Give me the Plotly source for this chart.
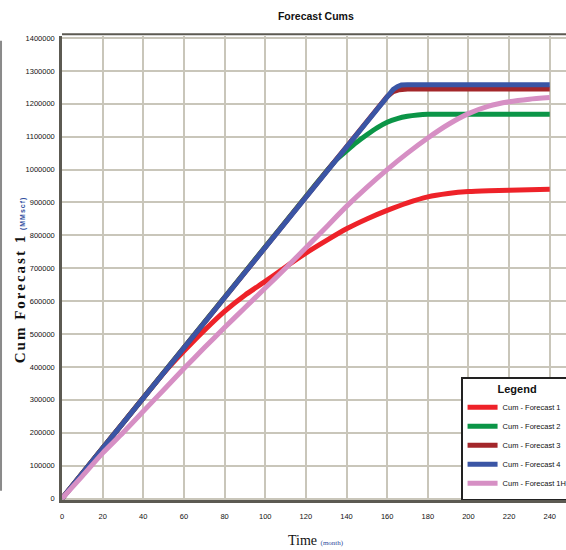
'''
Forecast Cums : cumulative gas forecasts (MMscf) over 240 months
'''

import plotly.graph_objects as go

#  --------------------------------------------------------------------------------------
# DATA
#  --------------------------------------------------------------------------------------

x_ticks = [0, 20, 40, 60, 80, 100, 120, 140, 160, 180, 200, 220, 240]
y_ticks = [0, 100000, 200000, 300000, 400000, 500000, 600000, 700000,
           800000, 900000, 1000000, 1100000, 1200000, 1300000, 1400000]

# Cum - Forecast 1
months_f1 = [0, 20, 40, 50, 60, 70, 80, 90, 100, 110, 120, 130, 140, 150, 160,
             170, 180, 190, 200, 210, 220, 230, 240]
cum_f1 = [0, 153000, 306000, 381000, 448000, 511000, 569000, 618000, 660000,
          704000, 746000, 784000, 820000, 850000, 876000, 899000, 917000,
          927000, 933000, 935500, 937000, 939000, 940000]

# Cum - Forecast 2
months_f2 = [0, 20, 40, 60, 80, 100, 120, 130, 135, 140, 145, 150, 155, 160,
             165, 170, 175, 180, 200, 220, 240]
cum_f2 = [0, 153000, 306000, 459000, 612000, 765000, 918000, 994000, 1030000,
          1057000, 1083000, 1106000, 1127000, 1144000, 1155000, 1162000,
          1166000, 1168000, 1168000, 1168000, 1168000]

# Cum - Forecast 3
months_f3 = [0, 20, 40, 60, 80, 100, 120, 140, 155, 160, 163, 166, 170, 200, 240]
cum_f3 = [0, 153000, 306000, 459000, 612000, 765000, 918000, 1071000, 1186000,
          1222000, 1237000, 1243000, 1245000, 1245000, 1245000]

# Cum - Forecast 4
months_f4 = [0, 20, 40, 60, 80, 100, 120, 140, 160, 163, 165, 167, 170, 200, 240]
cum_f4 = [0, 153000, 306000, 459000, 612000, 765000, 918000, 1071000, 1224000,
          1244000, 1252000, 1257000, 1258000, 1258000, 1258000]

# Cum - Forecast 1H
months_f1h = [0, 10, 20, 30, 40, 50, 60, 70, 80, 90, 100, 110, 120, 130, 140,
              150, 160, 170, 180, 190, 200, 210, 220, 230, 240]
cum_f1h = [0, 68000, 138000, 200000, 265000, 330000, 395000, 458000, 520000,
           580000, 640000, 700000, 762000, 825000, 888000, 946000, 1000000,
           1050000, 1096000, 1137000, 1170000, 1193000, 1206000, 1214000,
           1219000]

series_names = ["Cum - Forecast 1", "Cum - Forecast 2", "Cum - Forecast 3",
                "Cum - Forecast 4", "Cum - Forecast 1H"]
series_months = [months_f1, months_f2, months_f3, months_f4, months_f1h]
series_values = [cum_f1, cum_f2, cum_f3, cum_f4, cum_f1h]
series_colors = ["#EE2229", "#0B9547", "#A3272B", "#3A55A5", "#D68FC4"]
series_shape = ["spline", "spline", "linear", "linear", "spline"]

#  --------------------------------------------------------------------------------------
# FIGURE
#  --------------------------------------------------------------------------------------

sans = "Liberation Sans, Arial, sans-serif"
serif = "Liberation Serif, Times New Roman, serif"
grid_col = "#C9C6BA"
axis_col = "#5C5A52"

def sfont(size, bold=False):
    return dict(family=sans, size=size, color="#111",
                weight="bold" if bold else "normal")

fig = go.Figure()

for name, mm, vv, col, shp in zip(series_names, series_months, series_values,
                                  series_colors, series_shape):
    fig.add_trace(go.Scatter(x=mm, y=vv, name=name, mode="lines",
                             line=dict(color=col, width=5, shape=shp, smoothing=0.6)))

fig.update_layout(
    width=566, height=550,
    margin=dict(l=62, r=0, t=36, b=50, autoexpand=False),
    paper_bgcolor="white", plot_bgcolor="white",
    title=dict(text="Forecast Cums", x=0.558, xanchor="center",
               y=0.971, yanchor="middle", font=sfont(10.5, True)),
    showlegend=True,
    legend=dict(x=1.014, xanchor="right", y=0, yanchor="bottom",
                bgcolor="white", bordercolor="#222", borderwidth=1.5,
                title=dict(text="Legend", side="top center", font=sfont(11, True)),
                font=sfont(7.5), itemwidth=30, tracegroupgap=0),
)

fig.update_xaxes(range=[0, 248], tickmode="array", tickvals=x_ticks,
                 ticktext=[str(t) for t in x_ticks],
                 showgrid=True, gridcolor=grid_col, gridwidth=1.5,
                 zeroline=False, showline=True, linecolor=axis_col, linewidth=3,
                 ticks="", ticklabelstandoff=7, tickfont=sfont(7.5))

fig.update_yaxes(range=[-4560, 1406080], tickmode="array", tickvals=y_ticks,
                 ticktext=[str(t) for t in y_ticks],
                 showgrid=True, gridcolor=grid_col, gridwidth=1.5,
                 zeroline=False, showline=True, linecolor=axis_col, linewidth=2.5,
                 ticks="", ticklabelstandoff=3, tickfont=sfont(7.5))

# frame line on top + grey border on the far left
fig.add_shape(type="line", xref="paper", yref="paper", x0=0, x1=1, y0=1.004, y1=1.004,
              line=dict(color=axis_col, width=2))
fig.add_shape(type="line", xref="paper", yref="paper", x0=-0.121, x1=-0.121,
              y0=0.02, y1=0.99, line=dict(color="#8A8A8A", width=2))

# axis titles
fig.add_annotation(xref="paper", yref="paper", x=-0.083, y=0.474,
                   xanchor="center", yanchor="middle",
                   textangle=-90, showarrow=False,
                   text="<span style='letter-spacing:2px'><b>Cum Forecast 1</b></span> "
                        "<span style='font-size:7px;color:#2E4C9E;font-family:Liberation Sans;letter-spacing:1px'>"
                        "<b>(MMscf)</b></span>",
                   font=dict(family=serif, size=15, color="#111"))
fig.add_annotation(xref="paper", yref="paper", x=0.503, y=-0.088,
                   xanchor="center", yanchor="middle",
                   showarrow=False,
                   text="Time <span style='font-size:7px;color:#2E4C9E'>(month)</span>",
                   font=dict(family=serif, size=14, color="#111"))

# no page margin around the 566x550 figure
page_js = """
document.body.style.margin = '0';
document.body.style.overflow = 'hidden';
"""

fig.write_html("out.html", post_script=page_js, config={"displayModeBar": False})
